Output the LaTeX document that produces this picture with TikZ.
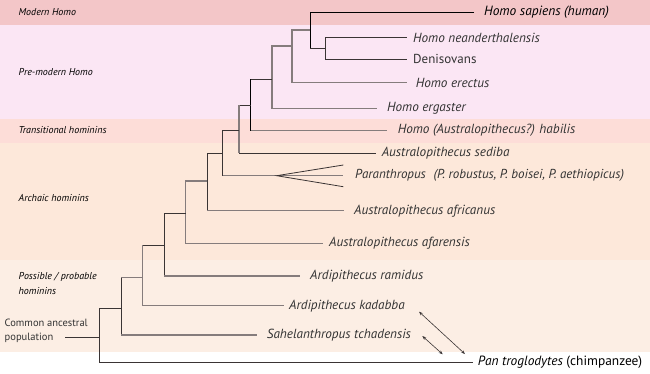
\documentclass[tikz,border=0pt]{standalone}
\usepackage{fontspec}
\setmainfont{PT Sans}
\usetikzlibrary{arrows.meta}
\definecolor{bandA}{HTML}{F3C6C8}
\definecolor{bandB}{HTML}{FBE6F4}
\definecolor{bandC}{HTML}{FDDDD8}
\definecolor{bandD}{HTML}{FDE8DA}
\definecolor{bandE}{HTML}{FCEEE4}
\definecolor{lnDark}{HTML}{3A3434}
\definecolor{lnGray}{HTML}{857C7C}
\definecolor{txt}{HTML}{333333}
\tikzset{
  band/.style={font=\itshape\fontsize{10}{12}\selectfont, text=black, anchor=west, inner sep=0pt, align=left},
  leaf/.style={font=\itshape\fontsize{13.2}{14}\selectfont, text=txt, anchor=west, inner sep=0pt},
  dk/.style={draw=lnDark, line width=1pt},
  gy/.style={draw=lnGray, line width=1.3pt},
  bk/.style={draw=black, line width=1pt},
}
\begin{document}
\begin{tikzpicture}[x=1pt,y=-1pt]
\useasboundingbox (0,0) rectangle (650,373);
% bands
\fill[bandA] (0,0) rectangle (650,25);
\fill[bandB] (0,25) rectangle (650,119);
\fill[bandC] (0,119) rectangle (650,143);
\fill[bandD] (0,143) rectangle (650,260);
\fill[bandE] (0,260) rectangle (650,352);
% band labels
\node[band] (lModern) at (18.5,12) {Modern Homo};
\node[band] (lPre) at (18.5,72) {Pre-modern Homo};
\node[band] (lTrans) at (18.5,130.5) {Transitional hominins};
\node[band] (lArch) at (18.5,198) {Archaic hominins};
\node[band, font=\itshape\fontsize{10}{15}\selectfont] (lPoss) at (18.5,283.5) {Possible / probable\\hominins};
\node[band, font=\fontsize{10.5}{14}\selectfont, text=txt] (lCommon) at (4.5,331) {Common ancestral\\population};
\coordinate (cEnd) at (65,337.5);
% internal nodes (x, top y, bottom y)
\coordinate (nSapT) at (310,12); \coordinate (nSapB) at (310,48);
\coordinate (nNeaT) at (325,37.7); \coordinate (nNeaB) at (325,59);
\coordinate (nEreT) at (292,30); \coordinate (nEreB) at (292,82.7);
\coordinate (nErgT) at (272,46); \coordinate (nErgB) at (272,108.7);
\coordinate (nHabT) at (250.7,79); \coordinate (nHabB) at (250.7,130.7);
\coordinate (nSedT) at (239,105.3); \coordinate (nSedB) at (239,153);
\coordinate (nParT) at (222.7,130.7); \coordinate (nParB) at (222.7,175.7);
\coordinate (nAfrT) at (207.3,153.3); \coordinate (nAfrB) at (207.3,210.7);
\coordinate (nAfaT) at (185.7,181); \coordinate (nAfaB) at (185.7,243.3);
\coordinate (nRamT) at (164.3,213.3); \coordinate (nRamB) at (164.3,276);
\coordinate (nKadT) at (142.7,245); \coordinate (nKadB) at (142.7,305.7);
\coordinate (nSahT) at (121,277.7); \coordinate (nSahB) at (121,335);
\coordinate (nRootT) at (99,308.7); \coordinate (nRootB) at (99,362.3);
\coordinate (fork) at (276.7,175.7);
% leaf ends
\coordinate (eSap) at (474,12);
\coordinate (eNea) at (406.7,37.7);
\coordinate (eDen) at (406.7,59);
\coordinate (eEre) at (406.7,82.7);
\coordinate (eErg) at (376.7,108.7);
\coordinate (eHab) at (386.7,130.7);
\coordinate (eSed) at (375.5,153);
\coordinate (eParA) at (343.3,165);
\coordinate (eParB) at (343.3,175.7);
\coordinate (eParC) at (343.3,186.7);
\coordinate (eAfr) at (344.3,210.7);
\coordinate (eAfa) at (322.7,243.3);
\coordinate (eRam) at (300,276);
\coordinate (eKad) at (284,305.7);
\coordinate (eSah) at (256.7,335);
\coordinate (ePan) at (473,362.3);
% labels
\node[leaf, text=black, font=\itshape\fontsize{13.4}{14}\selectfont] (tSap) at (484,12) {Homo sapiens (human)};
\node[leaf] (tNea) at (413,37.7) {Homo neanderthalensis};
\node[leaf, font=\upshape\fontsize{13}{14}\selectfont] (tDen) at (413,59) {Denisovans};
\node[leaf] (tEre) at (415.7,82.7) {Homo erectus};
\node[leaf] (tErg) at (387,108.7) {Homo ergaster};
\node[leaf] (tHab) at (397.7,130.7) {Homo (Australopithecus?) habilis};
\node[leaf] (tSed) at (381.7,153) {Australopithecus sediba};
\node[leaf, font=\itshape\fontsize{13}{14}\selectfont] (tPar) at (355,175.7) {Paranthropus\hspace{0.6em}(P. robustus, P. boisei, P. aethiopicus)};
\node[leaf] (tAfr) at (354,210.7) {Australopithecus africanus};
\node[leaf] (tAfa) at (329,243.3) {Australopithecus afarensis};
\node[leaf] (tRam) at (310,276) {Ardipithecus ramidus};
\node[leaf] (tKad) at (289,305.7) {Ardipithecus kadabba};
\node[leaf] (tSah) at (266.7,335) {Sahelanthropus tchadensis};
\node[leaf, text=black, font=\fontsize{13.4}{14}\selectfont] (tPan) at (477.7,362.3) {\textit{Pan troglodytes} (chimpanzee)};
% tree
\draw[bk] (eSap) -| (nSapB);
\draw[dk] (nSapB) -- (nSapB -| nNeaT);
\draw[dk] (eNea) -| (nNeaB) -- (eDen);
\draw[gy] (nSapT |- nEreT) -| (nEreB) -- (eEre);
\draw[gy] (nErgT -| nEreT) -- (nErgT) -- (nErgB) -- (eErg);
\draw[dk] (nErgT |- nHabT) -- (nHabT);
\draw[bk] (nHabT) -- (nHabB);
\draw[gy] (nHabB) -- (eHab);
\draw[dk] (nHabT |- nSedT) -- (nSedT);
\draw[gy] (nSedT) -- (nSedB);
\draw[dk] (nSedB) -- (eSed);
\draw[dk] (nSedT |- nParT) -- (nParT) -- (nParB);
\draw[gy] (nParB) -- (fork) -- (eParB);
\draw[dk, line width=0.8pt] (eParA) -- (fork) -- (eParC);
\draw[dk] (nParT |- nAfrT) -- (nAfrT) -- (nAfrB);
\draw[gy] (nAfrB) -- (eAfr);
\draw[gy] (nAfrT |- nAfaT) -- (nAfaT) -- (nAfaB) -- (eAfa);
\draw[dk] (nAfaT |- nRamT) -- (nRamT) -- (nRamB);
\draw[gy] (nRamB) -- (eRam);
\draw[dk] (nRamT |- nKadT) -- (nKadT);
\draw[gy] (nKadT) -- (nKadB) -- (eKad);
\draw[gy] (nKadT |- nSahT) -- (nSahT);
\draw[dk] (nSahT) -- (nSahB);
\draw[gy] (nSahB) -- (eSah);
\draw[dk] (nSahT |- nRootT) -- (nRootT) -- (nRootB) -- (ePan);
\draw[dk] (cEnd) -- (nRootB |- cEnd);
% arrows
\coordinate (a1s) at (419,311.7); \coordinate (a1e) at (465,354);
\coordinate (a2s) at (422.3,336); \coordinate (a2e) at (442.7,354.3);
\draw[lnDark, line width=0.6pt, {Stealth[length=4pt,width=3pt]}-{Stealth[length=4pt,width=3pt]}] (a1s) -- (a1e);
\draw[lnDark, line width=0.6pt, {Stealth[length=4pt,width=3pt]}-{Stealth[length=4pt,width=3pt]}] (a2s) -- (a2e);
\end{tikzpicture}
\end{document}
